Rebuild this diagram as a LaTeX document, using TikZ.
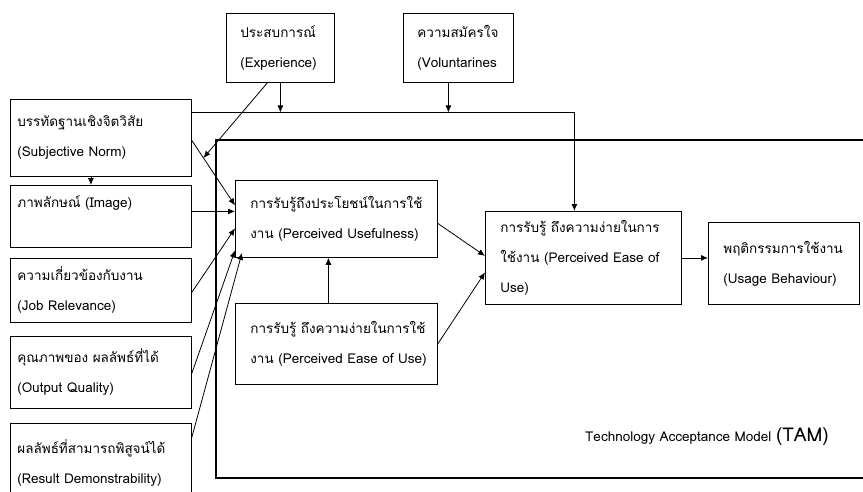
\documentclass[tikz,border=0pt]{standalone}
\usepackage{fontspec}
\newfontfamily\thaifont[Script=Thai]{Loma}
\usepackage{tikz}
\usetikzlibrary{arrows.meta}
\usetikzlibrary{calc}

\begin{document}
\begin{tikzpicture}[x=1pt,y=-1pt,>={Latex[length=7pt,width=6pt]},
	box/.style 2 args={draw, line width=0.8pt, anchor=north west, align=left, inner xsep=7pt, text width=#1, minimum height=#2, font=\thaifont\fontsize{13.5}{30}\selectfont},
	link/.style={->, line width=0.8pt}]
	
	\useasboundingbox (0,0) rectangle (863,491);
	
	% TAM frame, open at the right
	\draw[line width=2.2pt] (880,140) -- (216,140) -- (216,478) -- (880,478);
	
	\node[box={80pt}{69pt}, inner xsep=14pt] (exp) at (226,13) {ประสบการณ์\\(Experience)};
	\node[box={82pt}{69pt}, inner xsep=14pt] (vol) at (403,13) {ความสมัครใจ\\(Voluntarines};
	
	\node[box={167pt}{77pt}] (sn) at (10,99) {บรรทัดฐานเชิงจิตวิสัย\\(Subjective Norm)};
	\node[box={167pt}{62pt}] (img) at (10,185) {ภาพลักษณ์ (Image)\\ \mbox{}};
	\node[box={167pt}{64pt}] (job) at (10,258) {ความเกี่ยวข้องกับงาน\\(Job Relevance)};
	\node[box={167pt}{72pt}] (oq) at (10,336) {คุณภาพของ ผลลัพธ์ที่ได้\\(Output Quality)};
	\node[box={167pt}{80pt}] (rd) at (10,423) {ผลลัพธ์ที่สามารถพิสูจน์ได้\\(Result Demonstrability)};
	
	\node[box={172pt}{77pt}, inner xsep=15pt] (pu) at (235,180) {การรับรู้ถึงประโยชน์ในการใช้\\งาน (Perceived Usefulness)};
	\node[box={172pt}{81pt}, inner xsep=15pt] (peoui) at (235,303) {\mbox{การรับรู้ ถึงความง่ายในการใช้}\\\mbox{งาน (Perceived Ease of Use)}};
	\node[box={166pt}{93pt}, inner xsep=15pt] (peou) at (485,211) {การรับรู้ ถึงความง่ายในการ\\ใช้งาน (Perceived Ease of\\Use)};
	\node[box={121pt}{82pt}, inner xsep=15pt] (ub) at (708,222) {พฤติกรรมการใช้งาน\\(Usage Behaviour)};
	
	\node[font=\thaifont\fontsize{13.5}{15}\selectfont, inner sep=0pt] (tam) at (707,437) {Technology Acceptance Model {\fontsize{19}{20}\selectfont(TAM)}};
	
	% external variables
	\coordinate (bus) at ([yshift=25.5pt]sn.east);
	\path ([yshift=-2.5pt]sn.east) -- ([yshift=13.5pt]pu.west) coordinate[pos=0.27] (snpu);
	\draw[link] ([yshift=-2.5pt]sn.east) -- ([yshift=13.5pt]pu.west);
	\draw[link] ([yshift=5pt]img.east) -- ([yshift=7.5pt]pu.west);
	\draw[link] ([yshift=-2pt]job.east) -- ([yshift=-9.5pt]pu.west);
	\draw[link] ([yshift=-1pt]oq.east) -- ([yshift=-31.5pt]pu.west);
	\draw[link] ([yshift=26pt]rd.east) -- ([shift={(7pt,5pt)}]pu.south west);
	\draw[link] ([xshift=-10pt]sn.south) -- ([xshift=-10pt]img.north);
	
	% moderators
	\draw[link] (bus) -| ([xshift=-9pt]peou.north);
	\draw[link] (exp.south) -- (exp.south |- bus);
	\draw[link] ([xshift=-13pt]exp.south) -- (snpu);
	\draw[link] ([xshift=-10pt]vol.south) -- ([xshift=-10pt]vol.south |- bus);
	
	% TAM core
	\draw[link] ([xshift=-8pt]peoui.north) -- ([xshift=-8pt]pu.south);
	\draw[link] ([yshift=-4.5pt]pu.east) -- ([yshift=2pt]peou.west);
	\draw[link] (peoui.east) -- ([yshift=-14.5pt]peou.west);
	\draw[link] (peou.east) -- (ub.west |- peou.east);
\end{tikzpicture}
\end{document}
